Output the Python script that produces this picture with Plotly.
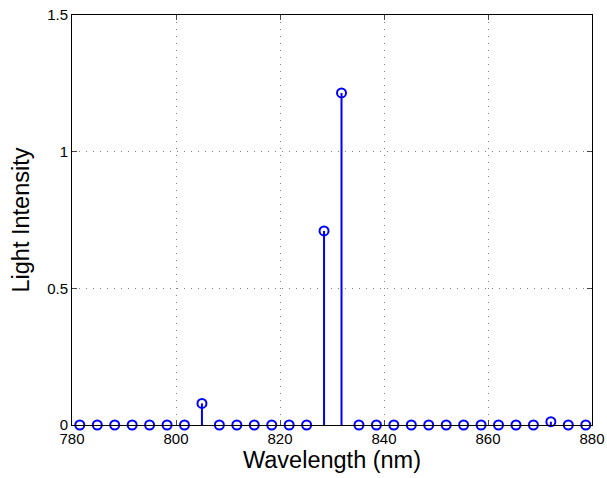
import plotly.graph_objects as go

wavelength = [781.50, 784.86, 788.21, 791.57, 794.92, 798.28, 801.63, 804.99,
              808.34, 811.70, 815.05, 818.41, 821.76, 825.12, 828.47, 831.83,
              835.18, 838.54, 841.89, 845.25, 848.60, 851.96, 855.31, 858.67,
              862.02, 865.38, 868.73, 872.09, 875.44, 878.80]
intensity = [0, 0, 0, 0, 0, 0, 0, 0.079,
             0, 0, 0, 0, 0, 0, 0.71, 1.215,
             0, 0, 0, 0, 0, 0, 0, 0,
             0, 0, 0, 0.012, 0, 0]

x_ticks = [780, 800, 820, 840, 860, 880]
y_ticks = [0, 0.5, 1, 1.5]
y_tick_text = ["0", "0.5", "1", "1.5"]

stem_x, stem_y = [], []
for xv, yv in zip(wavelength, intensity):
    stem_x += [xv, xv, None]
    stem_y += [0, yv, None]

BLUE = "rgb(0,0,255)"
fig = go.Figure()
fig.add_trace(go.Scatter(x=stem_x, y=stem_y, mode="lines",
                         line=dict(color=BLUE, width=2), hoverinfo="skip",
                         showlegend=False))
fig.add_trace(go.Scatter(x=wavelength, y=intensity, mode="markers",
                         marker=dict(symbol="circle-open", size=9,
                                     color=BLUE, line=dict(width=2, color=BLUE)),
                         showlegend=False, cliponaxis=False))

font = "Liberation Sans, Arial, Helvetica, sans-serif"
grid_col = "rgb(130,130,130)"
fig.update_layout(
    width=607, height=478,
    margin=dict(l=72, r=15, t=15, b=53),
    paper_bgcolor="white", plot_bgcolor="white",
    font=dict(family=font, size=15, color="black"),
    xaxis=dict(range=[780, 880], tickvals=x_ticks, ticks="inside", ticklen=5,
               showline=True, linecolor="black", linewidth=1, mirror="ticks",
               showgrid=True, gridcolor=grid_col, griddash="1px,6px", gridwidth=1,
               zeroline=False, automargin=False,
               title=dict(text="Wavelength (nm)", font=dict(size=23.5), standoff=2),
               tickfont=dict(size=15)),
    yaxis=dict(range=[0, 1.5], tickvals=y_ticks, ticktext=y_tick_text, ticks="inside", ticklen=5,
               showline=True, linecolor="black", linewidth=1, mirror="ticks",
               showgrid=True, gridcolor=grid_col, griddash="1px,6px", gridwidth=1,
               zeroline=False, automargin=False,
               title=dict(text="Light Intensity", font=dict(size=23.5), standoff=10),
               tickfont=dict(size=15)),
)
fig.write_html("out.html")
